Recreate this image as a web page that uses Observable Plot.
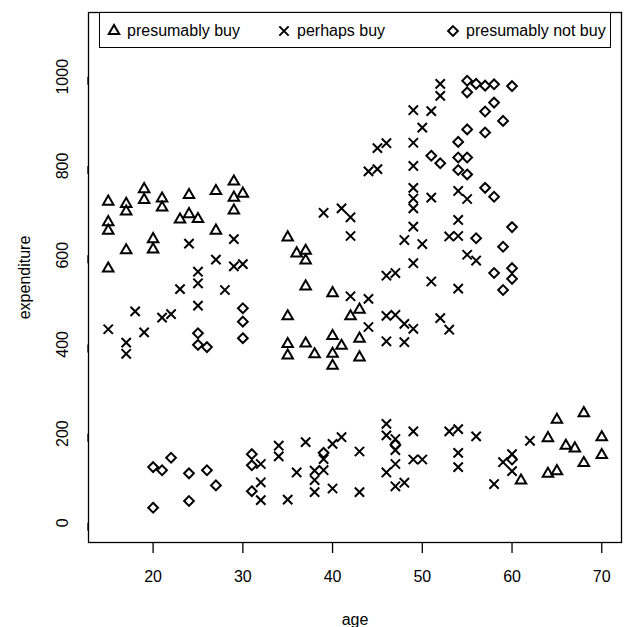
<!DOCTYPE html>
<html>
<head>
<meta charset="utf-8">
<script src="https://cdn.jsdelivr.net/npm/d3@7"></script>
<script src="https://cdn.jsdelivr.net/npm/@observablehq/plot@0.6"></script>
<style>
  html, body { margin: 0; padding: 0; background: #fff; }
  #wrap { position: relative; width: 625px; height: 627px; font-family: "Liberation Sans", Arial, Helvetica, sans-serif; }
  #legend { position: absolute; left: 99px; top: 12px; width: 512px; height: 36px; border: 1.3px solid #000; background: #fff; box-sizing: border-box; }
  .item { position: absolute; top: 0; height: 36px; display: flex; align-items: center; font-size: 16px; color: #000; }
  .item svg { margin-right: 6px; overflow: visible; }
</style>
</head>
<body>
<div id="wrap"></div>
<script>
// ---- data ----
const buyAge = [15,15,15,15,17,17,17,19,19,20,20,21,21,23,24,24,25,27,27,29,29,29,30,
  35,36,37,37,37,40,35,42,43,40,43,35,37,41,35,38,40,43,40,
  61,65,68,64,66,67,70,70,68,64,65];
const buyExp = [720,674,655,570,715,698,611,748,724,636,613,727,707,680,735,692,681,744,655,765,729,700,738,
  640,604,610,588,530,515,463,463,478,419,413,401,402,397,375,378,379,371,352,
  95,231,246,190,173,167,192,152,134,110,116];

const maybeAge = [24,27,29,29,30,25,25,23,28,25,18,21,22,15,19,17,17,
  39,41,42,42,42,44,44,46,47,48,49,46,48,52,53,46,47,51,54,49,55,56,53,54,48,50,49,54,
  49,49,51,49,55,54,49,45,44,45,46,49,50,49,51,52,52,
  32,32,32,34,34,37,36,35,38,38,38,39,39,40,41,40,43,43,46,46,47,47,47,46,47,48,49,49,50,
  53,54,54,54,56,62,60,59,60,58];
const maybeExp = [626,590,636,575,580,563,537,524,522,487,474,460,468,434,427,404,379,
  695,705,685,643,508,502,439,464,466,446,435,407,405,459,433,554,560,541,525,582,601,588,642,643,634,625,664,679,
  705,727,729,751,726,744,800,793,788,840,851,852,886,925,923,957,984,
  132,91,51,173,149,181,113,52,117,96,69,143,118,177,192,77,160,69,222,196,188,163,132,113,82,90,205,142,142,
  205,210,157,125,194,184,154,136,116,87];

const notAge = [30,30,30,25,25,26,
  20,21,22,24,26,27,20,24,31,31,31,39,47,60,
  55,56,57,58,60,55,58,57,59,55,57,54,51,52,54,55,54,55,57,58,60,56,59,58,60,60,59];
const notExp = [481,451,414,425,399,394,
  125,118,146,111,118,84,34,49,154,129,71,157,175,142,
  991,984,980,983,979,965,942,922,901,882,875,854,823,806,819,819,791,781,751,731,663,638,619,560,571,547,522];

const groups = ["presumably buy", "perhaps buy", "presumably not buy"];
const symbols = ["triangle", "times", "diamond2"];
const xTicks = [20, 30, 40, 50, 60, 70];
const yTicks = [0, 200, 400, 600, 800, 1000];

const toRows = (ages, exps) => ages.map((a, i) => ({age: a, exp: exps[i]}));
const buy = toRows(buyAge, buyExp);
const maybe = toRows(maybeAge, maybeExp);
const notBuy = toRows(notAge, notExp);

const dotStyle = {x: "age", y: "exp", fill: "none", stroke: "black", strokeWidth: 2};

const chart = Plot.plot({
  width: 625,
  height: 627,
  marginLeft: 88,
  marginRight: 4,
  marginTop: 12,
  marginBottom: 85,
  style: {fontFamily: '"Liberation Sans", Arial, Helvetica, sans-serif', fontSize: "16px", background: "white", color: "black"},
  x: {domain: [12.8, 72.2]},
  y: {domain: [-44, 1144]},
  marks: [
    Plot.frame({stroke: "black", strokeWidth: 1.3}),
    Plot.axisX({ticks: xTicks, tickFormat: d => String(d), tickSize: 11, tickPadding: 17, fontSize: 16, strokeWidth: 1.3,
      label: "age", labelAnchor: "center", labelArrow: "none", labelOffset: 82}),
    Plot.axisY({ticks: yTicks, tickFormat: d => String(d), tickSize: 8, tickPadding: 18, fontSize: 16, strokeWidth: 1.3,
      rotate: -90, textAnchor: "middle",
      label: "expenditure", labelAnchor: "center", labelArrow: "none", labelOffset: 70}),
    Plot.dot(buy, {...dotStyle, symbol: symbols[0], r: 3.9}),
    Plot.dot(maybe, {...dotStyle, symbol: symbols[1], r: 4.3}),
    Plot.dot(notBuy, {...dotStyle, symbol: symbols[2], r: 4.4})
  ]
});

const wrap = document.getElementById("wrap");
wrap.appendChild(chart);

// legend inside the plot frame (top)
const legend = document.createElement("div");
legend.id = "legend";
const lefts = [7, 177, 346];
const rs = [3.9, 4.3, 4.4];
const typeMap = {triangle: d3.symbolTriangle, times: d3.symbolTimes, diamond2: d3.symbolDiamond2};
groups.forEach((g, i) => {
  const item = document.createElement("div");
  item.className = "item";
  item.style.left = lefts[i] + "px";
  const path = d3.symbol(typeMap[symbols[i]], Math.PI * rs[i] * rs[i])();
  item.innerHTML = `<svg width="14" height="14" viewBox="-7 -7 14 14"><path d="${path}" fill="none" stroke="black" stroke-width="2"/></svg><span>${g}</span>`;
  legend.appendChild(item);
});
wrap.appendChild(legend);
</script>
</body>
</html>
